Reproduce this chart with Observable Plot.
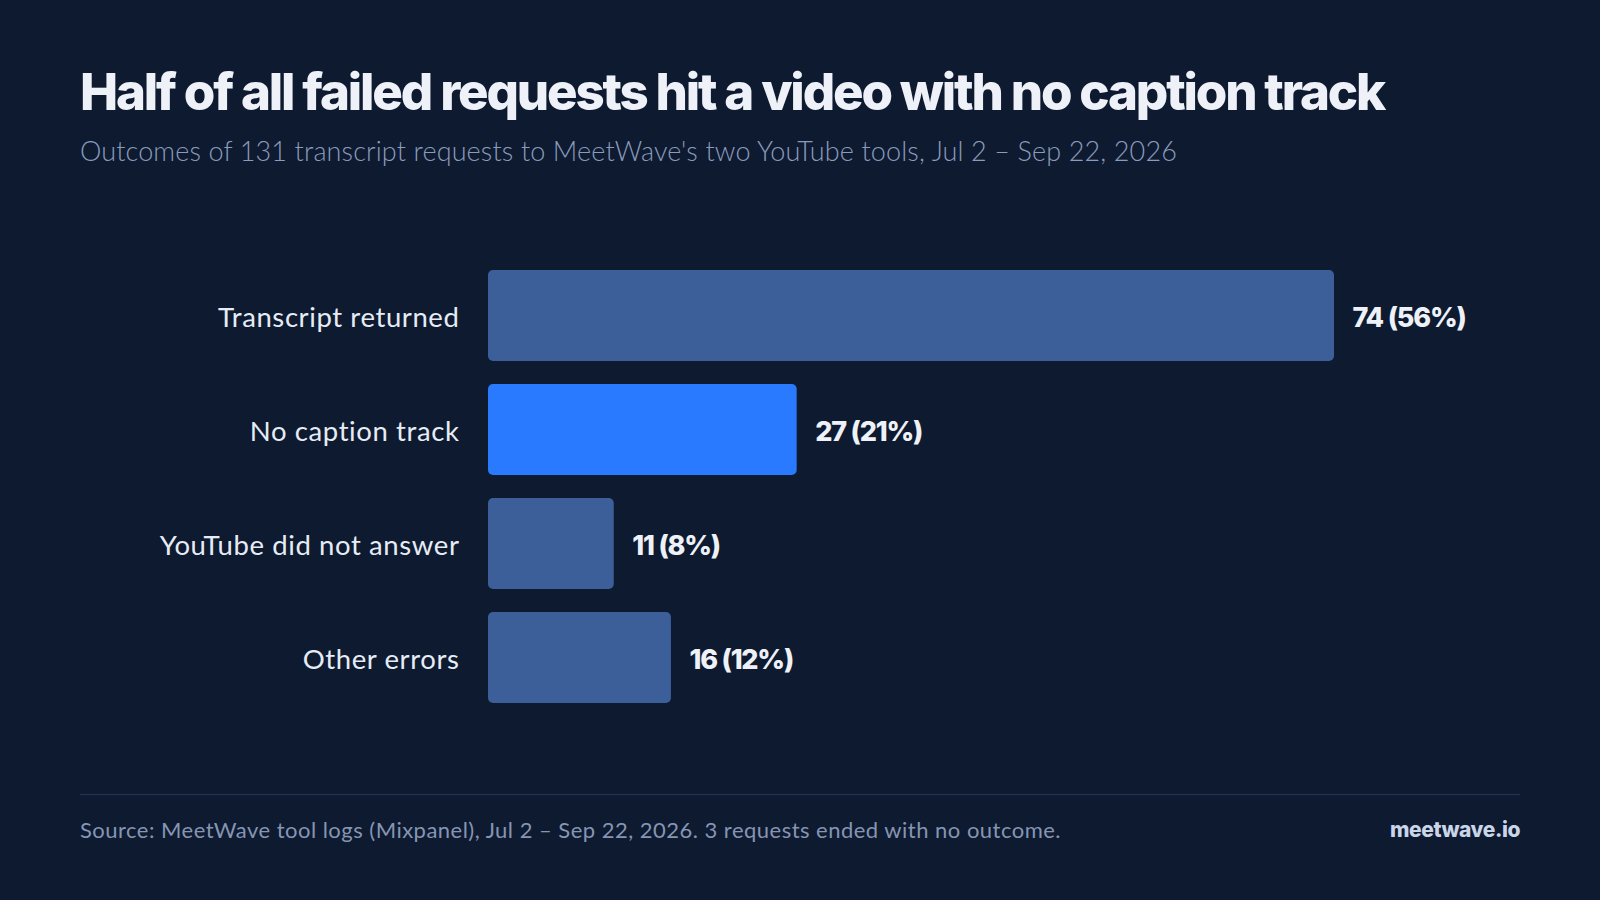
<!DOCTYPE html>
<html>
<head>
<meta charset="utf-8">
<script src="https://cdn.jsdelivr.net/npm/d3@7"></script>
<script src="https://cdn.jsdelivr.net/npm/@observablehq/plot@0.6"></script>
<style>
  html, body { margin: 0; padding: 0; background: #0e1a2f; }
  #wrap { position: relative; width: 1600px; height: 900px; background: #0e1a2f; overflow: hidden; font-family: Lato, "Noto Sans", sans-serif; }
  .abs { position: absolute; white-space: nowrap; }
  #title { left: 80px; top: 60px; font-family: Inter, Lato, sans-serif; font-size: 51px; font-weight: 800; color: #eef2f8; line-height: 64px; }
  #subtitle { left: 80px; top: 134px; font-size: 27px; font-weight: 300; color: #8a9bbd; line-height: 34px; }
  #chart { left: 0; top: 200px; }
  #rule { left: 80px; top: 794px; width: 1440px; height: 1px; background: #21365a; }
  #source { left: 80px; top: 816px; font-size: 22px; color: #8595b3; line-height: 28px; }
  #brand { right: 80px; top: 816px; font-family: Inter, Lato, sans-serif; font-size: 21px; font-weight: 800; color: #c9d5e8; line-height: 28px; }
</style>
</head>
<body>
<div id="wrap">
  <div id="title" class="abs">Half of all failed requests hit a video with no caption track</div>
  <div id="subtitle" class="abs">Outcomes of 131 transcript requests to MeetWave's two YouTube tools, Jul 2 – Sep 22, 2026</div>
  <div id="chart" class="abs"></div>
  <div id="rule" class="abs"></div>
  <div id="source" class="abs">Source: MeetWave tool logs (Mixpanel), Jul 2 – Sep 22, 2026. 3 requests ended with no outcome.</div>
  <div id="brand" class="abs">meetwave.io</div>
</div>
<script>
const categories = ["Transcript returned", "No caption track", "YouTube did not answer", "Other errors"];
const counts = [74, 27, 11, 16];
const percents = [56, 21, 8, 12];
const highlight = "No caption track";

const data = categories.map((c, i) => ({category: c, count: counts[i], pct: percents[i]}));

function fit(id, target) {
  const el = document.getElementById(id);
  const n = el.textContent.length;
  const w = el.getBoundingClientRect().width;
  el.style.letterSpacing = ((target - w) / n) + "px";
}

const chart = Plot.plot({
  width: 1600,
  height: 570,
  marginLeft: 488,
  marginRight: 266,
  marginTop: 59,
  marginBottom: 55,
  style: {background: "transparent", fontFamily: "Lato, 'Noto Sans', sans-serif", overflow: "visible"},
  x: {domain: [0, 74], axis: null},
  y: {domain: categories, paddingInner: 0.2, paddingOuter: 0.1, label: null},
  marks: [
    Plot.barX(data, {
      y: "category", x: "count", rx: 5,
      fill: d => d.category === highlight ? "#2a7aff" : "#3c5f99"
    }),
    Plot.axisY({tickSize: 0, tickPadding: 29, fontSize: 27.5, dy: 2, fill: "#e6ecf5", label: null}),
    Plot.text(data, {
      y: "category", x: "count", dx: 18, dy: 2, textAnchor: "start",
      text: d => `${d.count} (${d.pct}%)`,
      fontSize: 27, fontWeight: 800, fontFamily: "Inter, Lato, sans-serif", fill: "#eef2f8"
    })
  ]
});
document.getElementById("chart").appendChild(chart);
chart.querySelectorAll("[aria-label='y-axis tick label'] text").forEach(t => t.style.letterSpacing = "0.6px");
chart.querySelectorAll("[aria-label='text'] text").forEach(t => t.style.letterSpacing = "-1.2px");

fit("title", 1304);
fit("subtitle", 1097);
fit("source", 981);
fit("brand", 130);
</script>
</body>
</html>
